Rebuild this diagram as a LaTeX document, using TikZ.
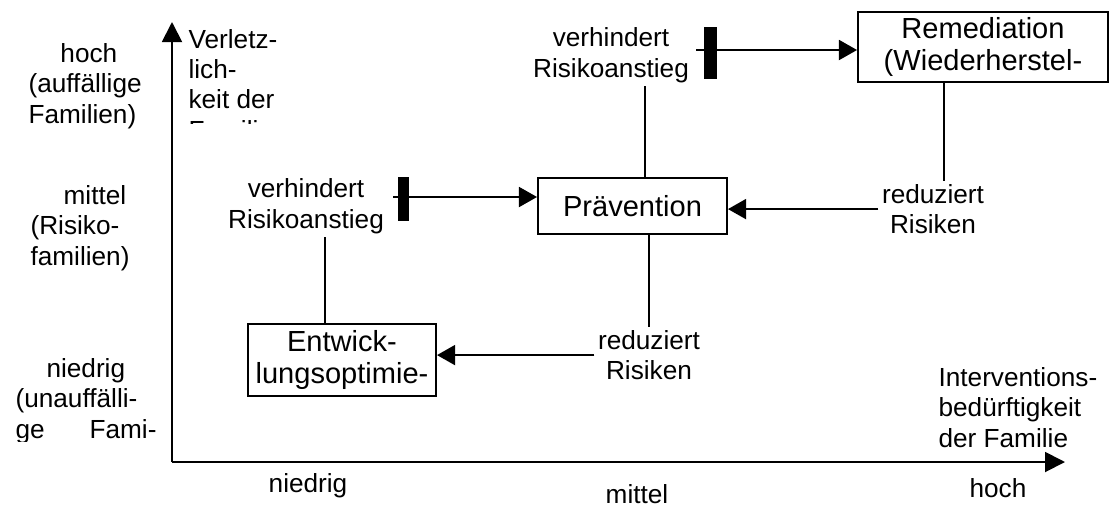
\documentclass[tikz,border=0pt]{standalone}
\usepackage{fontspec}
\setmainfont{Liberation Sans}
\usetikzlibrary{arrows.meta,calc}

\tikzset{
  lbl/.style={font=\fontsize{11}{12.65}\selectfont, inner sep=0pt, outer sep=1.5pt, align=center},
  kasten/.style={draw, line width=0.8pt, font=\fontsize{12.2}{13.8}\selectfont, align=center, inner sep=0pt},
  balken/.style={fill=black, inner sep=0pt},
  achse/.style={line width=0.8pt, -{Triangle[length=8.4pt,width=8.4pt]}},
  conn/.style={line width=0.8pt, -{Triangle[length=7.6pt,width=8.4pt]}},
  verb/.style={line width=0.8pt}
}

\begin{document}
\begin{tikzpicture}[x=0.42pt,y=-0.42pt]
\useasboundingbox (0,0) rectangle (1109,505);

% Achsen
\coordinate (O) at (172,462);
\coordinate (ytip) at (172,22);
\coordinate (xtip) at (1065,462);
\draw[achse] (O) -- (ytip);
\draw[achse] (O) -- (xtip);

% Beschriftung y-Achse (base = letzte Zeile)
\node[lbl,anchor=base west,align=left] (yhoch) at (25,123) {\hspace*{13.4pt}hoch\\(auffällige\\Familien)};
\node[lbl,anchor=base west,align=left] (ymittel) at (27,265) {\hspace*{13.9pt}mittel\\(Risiko-\\familien)};
\begin{scope}
\clip (0,340) rectangle (170,441);
\node[lbl,anchor=base west,align=left] (yniedrig) at (12,438) {\hspace*{13pt}niedrig\\(unauffälli-\\\makebox[59.2pt][s]{ge Fami-}};
\end{scope}
\begin{scope}
\clip (178,0) rectangle (400,123);
\node[lbl,anchor=base west,align=left] (ylab) at (185,139) {Verletz-\\lich-\\keit der\\Familie};
\end{scope}

% Beschriftung x-Achse
\node[lbl,anchor=base] (xniedrig) at (308,492) {niedrig};
\node[lbl,anchor=base] (xmittel) at (637,503) {mittel};
\node[lbl,anchor=base] (xhoch) at (998,497) {hoch};
\node[lbl,anchor=base west,align=left] (xlab) at (935,447) {Interventions-\\bedürftigkeit\\der Familie};

% Kaesten
\node[kasten,minimum width=105pt,minimum height=29.4pt] (rem) at (983,47) {Remediation\\(Wiederherstel-};
\node[kasten,minimum width=79.4pt,minimum height=23.5pt] (prev) at (632.5,206) {Prävention};
\node[kasten,minimum width=79pt,minimum height=30.2pt] (entw) at (342,360) {Entwick-\\lungsoptimie-};

% Wirkungen
\node[lbl,anchor=base] (vr1) at (306,228) {verhindert\\Risikoanstieg};
\node[lbl,anchor=base] (vr2) at (611,77) {verhindert\\Risikoanstieg};
\node[lbl,anchor=base] (red1) at (649,379.5) {reduziert\\Risiken};
\node[lbl,anchor=base] (red2) at (933,233.5) {reduziert\\Risiken};

\coordinate (t1) at (393,197);
\coordinate (t2) at (696,50);
\draw[conn] (t1) -- (t1 -| prev.west);
\draw[conn] (t2) -- (t2 -| rem.west);
\node[balken,minimum width=4.6pt,minimum height=18.5pt] (bar1) at (403.5,199) {};
\node[balken,minimum width=5.5pt,minimum height=21.8pt] (bar2) at (710.5,53) {};

\draw[verb] ([xshift=8pt]vr1.south) -- ([xshift=8pt]vr1.south |- entw.north);
\draw[verb] ([xshift=14.3pt]vr2.south) -- ([xshift=14.3pt]vr2.south |- prev.north);
\draw[verb] (prev.south -| red1.north) -- (red1.north);
\draw[verb] ([xshift=4.6pt]red2.north |- rem.south) -- ([xshift=4.6pt]red2.north);
\draw[conn] (red1.west) -- (red1.west -| entw.east);
\draw[conn] (red2.west) -- (red2.west -| prev.east);

\end{tikzpicture}
\end{document}
